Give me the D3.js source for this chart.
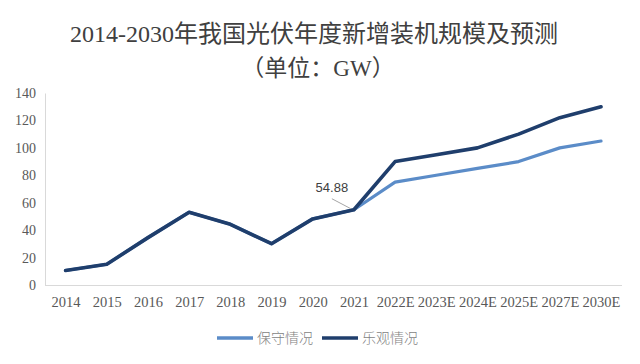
<!DOCTYPE html>
<html><head><meta charset="utf-8">
<script src="https://cdn.jsdelivr.net/npm/d3@7"></script>
<style>body{margin:0;background:#fff;}svg{display:block;}</style>
</head><body>
<svg id="chart" width="640" height="364"></svg>
<script>
const categories = ["2014","2015","2016","2017","2018","2019","2020","2021","2022E","2023E","2024E","2025E","2027E","2030E"];
const conservative = [10.6,15.13,34.54,53.06,44.26,30.11,48.2,54.88,75,80,85,90,100,105];
const optimistic   = [10.6,15.13,34.54,53.06,44.26,30.11,48.2,54.88,90,95,100,110,122,130];
const yTicks = [0,20,40,60,80,100,120,140];
const seriesNames = ["保守情况","乐观情况"];
const titleLines = ["2014-2030年我国光伏年度新增装机规模及预测","（单位：GW）"];
const annotation = {index:7, text:"54.88"};

const svg = d3.select("#chart");
const serif = "'Liberation Serif','Times New Roman','Noto Sans CJK SC',serif";
const cjk = "'Noto Sans CJK SC',sans-serif";
const colors = ["#5B8CC8","#1F3E6C"];

const x = d3.scalePoint().domain(categories).range([65.6, 601]);
const y = d3.scaleLinear().domain([0,140]).range([285, 93]);

// title
svg.append("text").attr("x",314).attr("y",42).attr("text-anchor","middle")
  .attr("font-family",serif).attr("font-size",24).attr("fill","#404040").text(titleLines[0]);
svg.append("text").attr("x",318).attr("y",76).attr("text-anchor","middle")
  .attr("font-family",serif).attr("font-size",23).attr("fill","#404040").text(titleLines[1]);

// axes
const yAxis = svg.append("g").attr("transform","translate(45,0)")
  .call(d3.axisLeft(y).tickValues(yTicks).tickSize(0).tickPadding(9));
yAxis.select(".domain").attr("stroke","#d9d9d9");
yAxis.selectAll("text").attr("font-family",serif).attr("font-size",14).attr("fill","#595959");

const xAxis = svg.append("g").attr("transform","translate(0,285)")
  .call(d3.axisBottom(x).tickSize(0).tickPadding(12));
xAxis.select(".domain").attr("d","M45,0.5H622").attr("stroke","#d9d9d9");
xAxis.selectAll("text").attr("font-family",serif).attr("font-size",14.5).attr("fill","#595959");

// lines
const line = d3.line().x((d,i)=>x(categories[i])).y(d=>y(d));
[conservative, optimistic].forEach((s,k)=>{
  svg.append("path").datum(s).attr("d",line).attr("fill","none")
    .attr("stroke",colors[k]).attr("stroke-width",k===1?3.6:3.2)
    .attr("stroke-linejoin","round").attr("stroke-linecap","round");
});

// annotation
const ax = x(categories[annotation.index]), ay = y(optimistic[annotation.index]);
svg.append("line").attr("x1",ax-22).attr("y1",ay-11).attr("x2",ax-3).attr("y2",ay-1)
  .attr("stroke","#a6a6a6").attr("stroke-width",1);
svg.append("text").attr("x",ax-22).attr("y",ay-18).attr("text-anchor","middle")
  .attr("font-family","'Liberation Sans',Arial,sans-serif").attr("font-size",13).attr("fill","#404040")
  .text(annotation.text);

// legend
const lg = svg.append("g");
const legendX = [217, 322];
seriesNames.forEach((n,k)=>{
  lg.append("line").attr("x1",legendX[k]).attr("x2",legendX[k]+36).attr("y1",338).attr("y2",338)
    .attr("stroke",colors[k]).attr("stroke-width",3.5);
  lg.append("text").attr("x",legendX[k]+40).attr("y",343).attr("font-family",cjk)
    .attr("font-size",14).attr("font-weight",300).attr("fill","#7f7f7f").text(n);
});
</script>
</body></html>
